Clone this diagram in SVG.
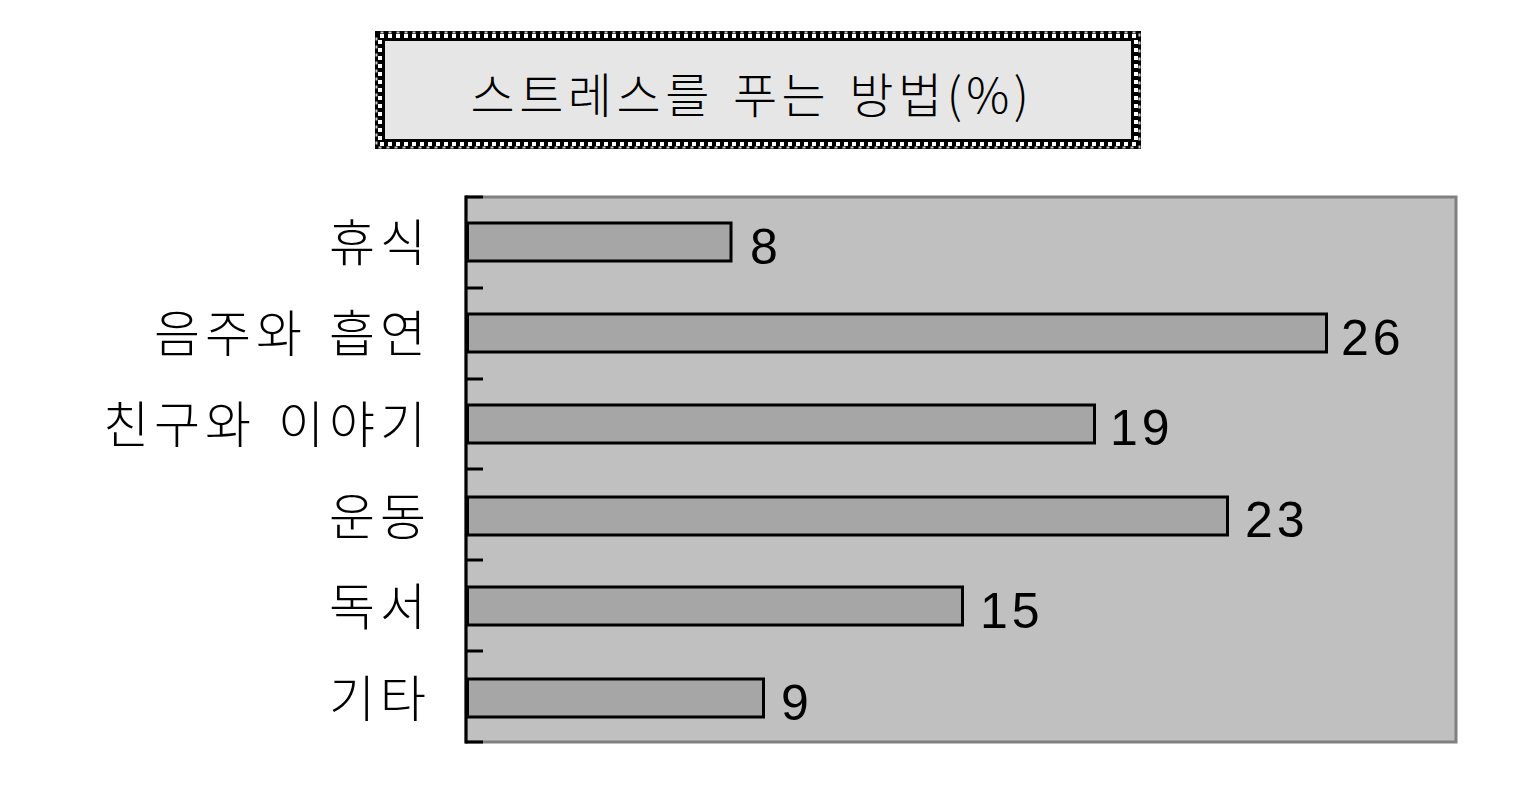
<svg xmlns="http://www.w3.org/2000/svg" width="1516" height="803" viewBox="0 0 1516 803">
<style>
.lbl{font-family:"Noto Sans CJK KR","Liberation Sans",sans-serif;font-weight:300;font-size:50px;fill:#000;text-anchor:end;letter-spacing:5px;word-spacing:6px}
.val{font-family:"Liberation Sans","DejaVu Sans",sans-serif;font-size:50px;fill:#000;letter-spacing:4px}
.bar{fill:#a6a6a6;stroke:#000;stroke-width:3}
.tick{stroke:#000;stroke-width:3}
</style>
<rect width="1516" height="803" fill="#fff"/>
<g id="title">
<rect x="380" y="36" width="756" height="108" fill="#e6e6e6" stroke="#000" stroke-width="10"/>
<rect x="380" y="36" width="756" height="108" fill="none" stroke="#fff" stroke-width="4" stroke-dasharray="4 4"/>
<rect x="376.5" y="32.5" width="763" height="115" fill="none" stroke="#fff" stroke-width="2" stroke-dasharray="3 5" stroke-dashoffset="4" opacity="0.8"/>
<text x="752" y="113" style="font-family:'Noto Sans CJK KR','Liberation Sans',sans-serif;font-weight:300;font-size:48px;fill:#000;text-anchor:middle;letter-spacing:4.5px;word-spacing:4px">스트레스를 푸는 방법(%)</text>
</g>
<g id="plot">
<rect x="466" y="197" width="990" height="545" fill="#c0c0c0" stroke="#808080" stroke-width="3"/>
</g>
<g id="axis">
<line class="tick" x1="466" y1="195.5" x2="466" y2="743.5"/>
<line class="tick" x1="466" y1="197" x2="483" y2="197"/>
<line class="tick" x1="466" y1="288" x2="483" y2="288"/>
<line class="tick" x1="466" y1="379" x2="483" y2="379"/>
<line class="tick" x1="466" y1="469" x2="483" y2="469"/>
<line class="tick" x1="466" y1="560" x2="483" y2="560"/>
<line class="tick" x1="466" y1="651" x2="483" y2="651"/>
<line class="tick" x1="466" y1="742" x2="483" y2="742"/>
</g>
<g id="bar-rest">
<rect class="bar" x="467.5" y="223" width="263.5" height="38"/>
<text class="lbl" x="431" y="261">휴식</text>
<text class="val" x="750" y="264">8</text>
</g>
<g id="bar-drink">
<rect class="bar" x="467.5" y="314" width="859" height="38"/>
<text class="lbl" x="431" y="352">음주와 흡연</text>
<text class="val" x="1341" y="355">26</text>
</g>
<g id="bar-friends">
<rect class="bar" x="467.5" y="405" width="627" height="38"/>
<text class="lbl" x="431" y="443">친구와 이야기</text>
<text class="val" x="1110" y="445">19</text>
</g>
<g id="bar-exercise">
<rect class="bar" x="467.5" y="497" width="760" height="38"/>
<text class="lbl" x="431" y="535">운동</text>
<text class="val" x="1245" y="537">23</text>
</g>
<g id="bar-reading">
<rect class="bar" x="467.5" y="587" width="495" height="38"/>
<text class="lbl" x="431" y="625">독서</text>
<text class="val" x="980" y="628">15</text>
</g>
<g id="bar-other">
<rect class="bar" x="467.5" y="679" width="296" height="38"/>
<text class="lbl" x="431" y="717">기타</text>
<text class="val" x="781" y="720">9</text>
</g>
</svg>
